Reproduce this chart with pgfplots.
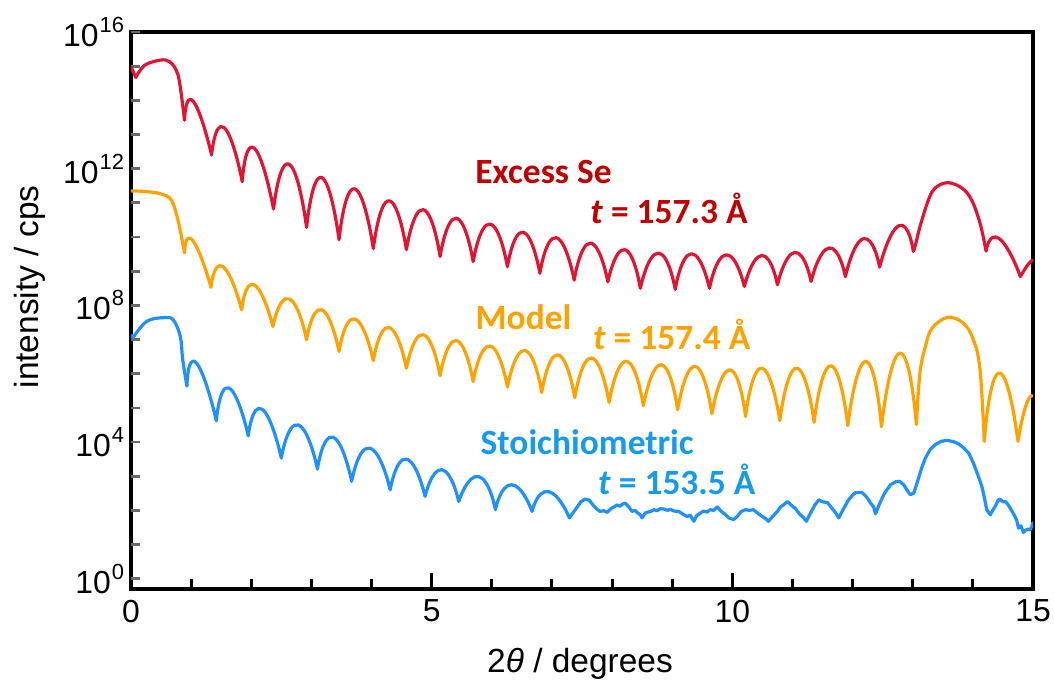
\documentclass[border=0pt]{standalone}
\usepackage{pgfplots}
\pgfplotsset{compat=1.18}
\usepackage{fontspec}
\setmainfont{Liberation Sans}
\newfontfamily\annfont{Carlito}

\definecolor{seRed}{RGB}{227,20,50}
\definecolor{seRedText}{RGB}{192,0,0}
\definecolor{modelOrange}{RGB}{255,162,0}
\definecolor{stoBlue}{RGB}{30,144,255}
\definecolor{stoBlueText}{RGB}{20,155,240}
\definecolor{tickgray}{RGB}{105,105,105}

% tick label of the form 10^n, set in the text font
\newcommand\decade[1]{10\kern0.5bp\raisebox{7bp}{\fontsize{11}{11}\selectfont #1}}

\pgfplotsset{
  fringes/.style={smooth, tension=1.1, empty line=jump},
  broad/.style={smooth, tension=0.6, empty line=jump},
}

\begin{document}
\begin{tikzpicture}
\begin{axis}[
  at={(0,0)}, anchor=south west,
  scale only axis, width=451bp, height=278.5bp,
  xmin=0, xmax=15, ymode=log, ymin=0.5, ymax=1e16,
  axis line style={line width=2.2bp},
  tick align=inside,
  xtick pos=left, ytick pos=left,
  xtick={0,5,10,15}, xticklabels={0,5,10,15},
  minor xtick={1,2,3,4,6,7,8,9,11,12,13,14},
  major tick length=8bp, minor tick length=5bp,
  xtick style={black, line width=1.5bp},
  ytick={1,1e4,1e8,1e12,1e16},
  yticklabels={\decade{0},\decade{4},\decade{8},\decade{12},\decade{16}},
  ytick style={draw=none},
  tick label style={font=\fontsize{16}{18}\selectfont},
  xticklabel style={yshift=-2bp},
  every axis plot/.append style={line width=1.6bp, line join=round, line cap=round},
]

% short grey ticks at every decade
\pgfplotsinvokeforeach{0,...,16}{
  \draw[tickgray, line width=1.35bp] (axis cs:0,1e#1) -- ++(4.5bp,0pt);
}

% ---------------- Excess Se (log10 of intensity) ----------------
% Kiessig fringes, one smooth piece per fringe
\addplot[seRed, fringes] table[x=x, y expr={10^\thisrow{lg}}] {
x lg
0.00 14.98
0.08 14.67

0.89 13.42
1.04 13.96
1.34 12.40

1.34 12.40
1.55 13.20
1.85 11.62

1.85 11.62
2.05 12.60
2.37 10.82

2.37 10.82
2.63 12.13
2.92 10.28

2.92 10.28
3.17 11.74
3.46 9.92

3.46 9.92
3.72 11.41
4.03 9.66

4.03 9.66
4.29 11.06
4.58 9.63

4.58 9.63
4.86 10.80
5.14 9.43

5.14 9.43
5.41 10.55
5.69 9.28

5.69 9.28
5.97 10.38
6.26 9.13

6.26 9.13
6.52 10.14
6.80 8.94

6.80 8.94
7.07 9.98
7.37 8.74

7.37 8.74
7.64 9.82
7.93 8.69

7.93 8.69
8.21 9.63
8.47 8.50

8.47 8.50
8.77 9.53
9.05 8.47

9.05 8.47
9.32 9.51
9.62 8.50

9.62 8.50
9.90 9.48
10.20 8.55

10.20 8.55
10.49 9.46
10.75 8.60

10.75 8.60
11.04 9.55
11.31 8.70

11.31 8.70
11.61 9.68
11.88 8.84

11.88 8.84
12.18 9.95
12.45 9.12

12.45 9.12
12.77 10.33
13.01 9.58

14.22 9.59
14.44 9.95
14.79 8.84

14.79 8.84
14.92 9.20
15.00 9.32
};
% total reflection plateau and Bragg peak
\addplot[seRed, broad] table[x=x, y expr={10^\thisrow{lg}}] {
x lg
0.08 14.67
0.23 15.03
0.50 15.18
0.64 15.13
0.75 14.89
0.81 14.50
0.89 13.42

13.01 9.58
13.05 9.80
13.12 10.30
13.26 11.08
13.37 11.43
13.58 11.59
13.82 11.43
13.98 11.08
14.12 10.40
14.22 9.59
};

% ---------------- Model ----------------
\addplot[modelOrange, fringes] table[x=x, y expr={10^\thisrow{lg}}] {
x lg
0.89 9.54
1.03 9.89
1.33 8.53

1.33 8.53
1.53 9.13
1.84 7.87

1.84 7.87
2.05 8.60
2.36 7.38

2.36 7.38
2.63 8.19
2.92 6.99

2.92 6.99
3.17 7.87
3.46 6.65

3.46 6.65
3.72 7.60
4.03 6.38

4.03 6.38
4.29 7.35
4.58 6.16

4.58 6.16
4.86 7.14
5.14 5.94

5.14 5.94
5.41 6.97
5.69 5.77

5.69 5.77
5.97 6.81
6.26 5.61

6.26 5.61
6.55 6.68
6.83 5.45

6.83 5.45
7.10 6.55
7.38 5.30

7.38 5.30
7.66 6.46
7.95 5.16

7.95 5.16
8.24 6.36
8.52 5.06

8.52 5.06
8.82 6.26
9.09 4.94

9.09 4.94
9.38 6.21
9.66 4.83

9.66 4.83
9.96 6.11
10.22 4.75

10.22 4.75
10.49 6.16
10.79 4.63

10.79 4.63
11.07 6.16
11.36 4.58

11.36 4.58
11.64 6.23
11.92 4.48

11.92 4.48
12.22 6.36
12.48 4.45

12.48 4.45
12.79 6.60
13.06 4.52

14.19 4.02
14.44 6.02
14.75 4.02

14.75 4.02
14.88 5.05
15.00 5.35
};
\addplot[modelOrange, broad] table[x=x, y expr={10^\thisrow{lg}}] {
x lg
0.00 11.35
0.25 11.33
0.50 11.26
0.67 11.08
0.78 10.50
0.89 9.54

13.06 4.52
13.12 6.02
13.21 6.79
13.32 7.33
13.58 7.65
13.84 7.48
14.01 6.99
14.12 6.11
14.19 4.02
};

% ---------------- Stoichiometric ----------------
\addplot[stoBlue, fringes] table[x=x, y expr={10^\thisrow{lg}}] {
x lg
0.00 7.12
0.04 7.07

0.93 5.64
1.09 6.31
1.42 4.62

1.42 4.62
1.63 5.58
1.95 4.18

1.95 4.18
2.18 4.96
2.50 3.53

2.50 3.53
2.78 4.50
3.10 3.21

3.10 3.21
3.36 4.14
3.67 2.85

3.67 2.85
3.97 3.82
4.31 2.60

4.31 2.60
4.58 3.50
4.89 2.41

4.89 2.41
5.17 3.19
5.45 2.26

5.45 2.26
5.78 2.99
6.06 2.02

6.06 2.02
6.33 2.75
6.67 1.97

6.67 1.97
6.94 2.55
7.29 1.78
};
\addplot[stoBlue, broad] table[x=x, y expr={10^\thisrow{lg}}] {
x lg
0.04 7.07
0.26 7.53
0.54 7.64
0.70 7.58
0.82 7.09
0.86 6.41
0.93 5.64
};
% noisy high-angle part and Bragg peak
\addplot[stoBlue] table[x=x, y expr={10^\thisrow{lg}}] {
x lg
7.29 1.78
7.40 2.05
7.48 2.25
7.55 2.33
7.62 2.30
7.70 2.12
7.76 2.02
7.80 1.97
7.86 1.99
7.92 1.94
7.98 2.05
8.03 2.10
8.08 2.16
8.13 2.12
8.18 2.19
8.22 2.21
8.28 2.10
8.33 1.97
8.38 2.00
8.43 1.92
8.47 1.87
8.50 1.78
8.55 1.92
8.60 1.95
8.64 1.97
8.70 2.02
8.75 1.99
8.80 2.05
8.86 2.04
8.92 2.00
8.97 2.03
9.03 1.98
9.11 1.97
9.17 1.90
9.25 1.82
9.30 1.86
9.36 1.68
9.41 1.85
9.47 1.92
9.52 1.98
9.58 1.95
9.63 2.02
9.69 2.00
9.75 2.10
9.81 1.98
9.87 1.90
9.94 1.78
10.02 1.73
10.08 1.82
10.15 1.97
10.22 2.02
10.28 2.00
10.35 2.02
10.42 1.92
10.50 1.82
10.56 1.75
10.60 1.68
10.67 1.82
10.75 1.97
10.80 2.10
10.85 2.16
10.92 2.26
10.98 2.15
11.05 2.05
11.13 1.87
11.18 1.80
11.23 1.68
11.30 1.92
11.37 2.15
11.44 2.31
11.50 2.25
11.58 2.23
11.65 2.08
11.72 1.92
11.77 1.78
11.85 2.05
11.93 2.30
12.00 2.45
12.05 2.52
12.16 2.52
12.23 2.40
12.30 2.21
12.35 2.10
12.38 1.90
12.45 2.20
12.53 2.50
12.63 2.75
12.72 2.84
12.78 2.85
12.85 2.75
12.92 2.55
12.96 2.46
13.02 2.51
13.08 2.85
13.15 3.25
13.21 3.53
13.29 3.78
13.37 3.92
13.47 4.02
13.57 4.05
13.68 4.01
13.76 3.95
13.82 3.87
13.93 3.68
14.01 3.38
14.08 3.05
14.15 2.70
14.20 2.30
14.23 2.02
14.29 1.87
14.33 2.00
14.37 2.11
14.42 2.30
14.45 2.33
14.50 2.25
14.54 2.26
14.58 2.18
14.62 2.07
14.66 1.95
14.70 1.82
14.73 1.70
14.76 1.48
14.80 1.55
14.84 1.35
14.88 1.42
14.91 1.45
14.95 1.43
14.98 1.53
15.00 1.64
};
\end{axis}

% axis titles
\node[rotate=90, font=\fontsize{16.8}{18}\selectfont] at (-50.5bp,151bp) {intensity / cps};
\node[anchor=base, font=\fontsize{16.8}{18}\selectfont] at (224.5bp,-41.8bp) {2\textit{θ} / degrees};

% series annotations
\begin{scope}[every node/.style={anchor=base, inner sep=0pt,
    font={\annfont\bfseries\fontsize{17.8}{19}\selectfont}}]
  \node[text=seRedText] at (206.25bp,202.85bp) {Excess Se};
  \node[text=seRedText] at (269bp,182.5bp) {\textit{t} = 157.3 Å};
  \node[text=modelOrange] at (196.25bp,129.5bp) {Model};
  \node[text=modelOrange] at (270.35bp,119.85bp) {\textit{t} = 157.4 Å};
  \node[text=stoBlueText] at (228.1bp,67bp) {Stoichiometric};
  \node[text=stoBlueText] at (272.9bp,47bp) {\textit{t} = 153.5 Å};
\end{scope}

\pgfresetboundingbox
\path (-65.5bp,-46bp) rectangle (461.5bp,294.5bp);
\end{tikzpicture}
\end{document}
